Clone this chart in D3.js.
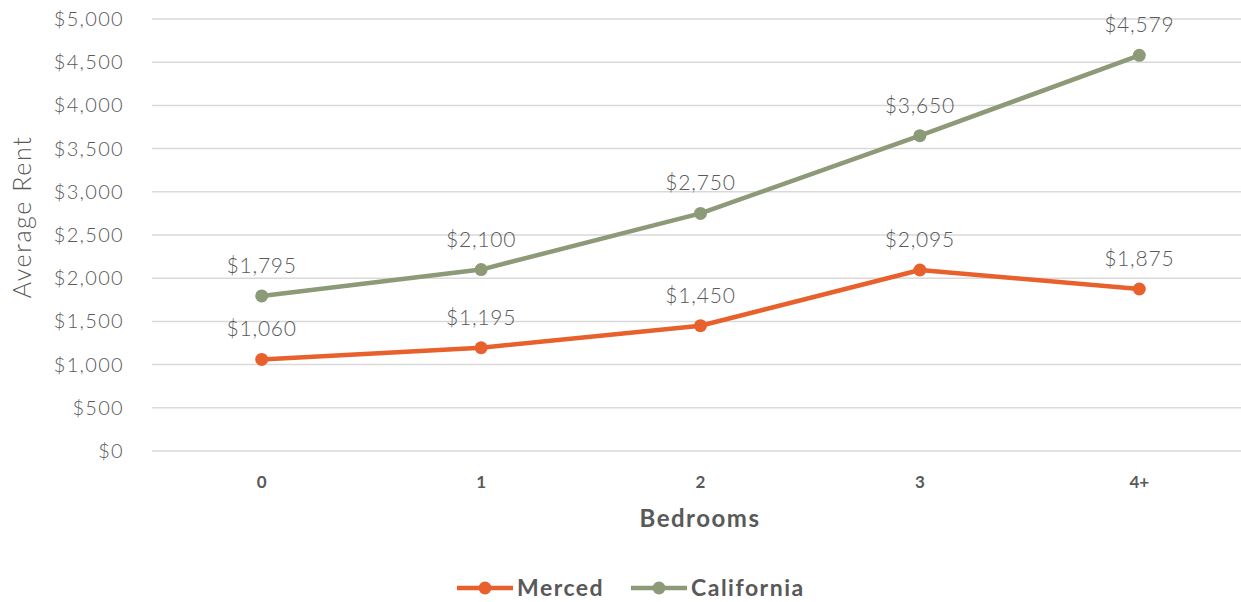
<!DOCTYPE html>
<html>
<head>
<meta charset="utf-8">
<script src="https://cdn.jsdelivr.net/npm/d3@7"></script>
<style>
  html, body { margin: 0; padding: 0; background: #fff; }
  svg { display: block; font-family: Lato, "Open Sans", sans-serif; }
</style>
</head>
<body>
<svg id="chart" width="1241" height="602"></svg>
<script>
const categories = ["0", "1", "2", "3", "4+"];
const merced = [1060, 1195, 1450, 2095, 1875];
const california = [1795, 2100, 2750, 3650, 4579];
const yTicks = [0, 500, 1000, 1500, 2000, 2500, 3000, 3500, 4000, 4500, 5000];
const seriesNames = ["Merced", "California"];
const seriesColors = ["#E8612C", "#8C9A78"];

const svg = d3.select("#chart");
const textColor = "#595959";

const x = d3.scaleBand().domain(categories).range([152, 1249]);
const y = d3.scaleLinear().domain([0, 5000]).range([451, 19]);
const cx = d => x(d) + x.bandwidth() / 2;
const fmt = v => "$" + d3.format(",")(v);

// gridlines
svg.append("g").selectAll("line").data(yTicks).join("line")
  .attr("x1", 152).attr("x2", 1249)
  .attr("y1", d => y(d)).attr("y2", d => y(d))
  .attr("stroke", "#d9d9d9").attr("stroke-width", 1.5);

// y axis labels
const yAxis = d3.axisLeft(y).tickValues(yTicks).tickFormat(fmt).tickSize(0).tickPadding(0);
const yg = svg.append("g").attr("transform", "translate(124,0)").call(yAxis);
yg.select(".domain").remove();
yg.selectAll("text").attr("font-size", 20).attr("font-weight", 300)
  .attr("letter-spacing", "1.3px")
  .attr("fill", textColor).attr("font-family", "Lato, sans-serif");

// x axis labels
const xAxis = d3.axisBottom(x).tickSize(0).tickPadding(0);
const xg = svg.append("g").attr("transform", "translate(0,474)").call(xAxis);
xg.select(".domain").remove();
xg.selectAll("text").attr("font-size", 17).attr("font-weight", 700)
  .attr("fill", textColor).attr("font-family", "Lato, sans-serif").attr("dy", "0.35em").attr("y", 8);

// axis titles
svg.append("text").attr("x", 700).attr("y", 527).attr("text-anchor", "middle")
  .attr("font-size", 24).attr("font-weight", 700).attr("letter-spacing", "1.5px")
  .attr("fill", textColor).text("Bedrooms");
svg.append("text").attr("transform", "translate(31,217) rotate(-90)").attr("text-anchor", "middle")
  .attr("font-size", 25).attr("font-weight", 300).attr("letter-spacing", "1.6px")
  .attr("fill", textColor).text("Average Rent");

const line = d3.line().x((d, i) => cx(categories[i])).y(d => y(d));
const data = [merced, california];

data.forEach((vals, si) => {
  const g = svg.append("g");
  g.append("path").attr("d", line(vals)).attr("fill", "none")
    .attr("stroke", seriesColors[si]).attr("stroke-width", 4.5).attr("stroke-linejoin", "round");
  g.selectAll("circle").data(vals).join("circle")
    .attr("cx", (d, i) => cx(categories[i])).attr("cy", d => y(d)).attr("r", 6.5)
    .attr("fill", seriesColors[si]);
  g.selectAll("text").data(vals).join("text")
    .attr("x", (d, i) => cx(categories[i])).attr("y", d => y(d) - 23)
    .attr("text-anchor", "middle").attr("font-size", 21).attr("font-weight", 300)
    .attr("letter-spacing", "0.8px")
    .attr("fill", textColor).text(fmt);
});

// legend
const legendX = [457, 631];
seriesNames.forEach((name, i) => {
  const g = svg.append("g").attr("transform", `translate(${legendX[i]},588)`);
  g.append("line").attr("x1", 0).attr("x2", 56).attr("y1", 0).attr("y2", 0)
    .attr("stroke", seriesColors[i]).attr("stroke-width", 4.5);
  g.append("circle").attr("cx", 28).attr("cy", 0).attr("r", 6.5).attr("fill", seriesColors[i]);
  g.append("text").attr("x", 60).attr("y", 0).attr("dy", "0.35em")
    .attr("font-size", 23).attr("font-weight", 700).attr("letter-spacing", "1.5px")
    .attr("fill", textColor).text(name);
});
</script>
</body>
</html>
